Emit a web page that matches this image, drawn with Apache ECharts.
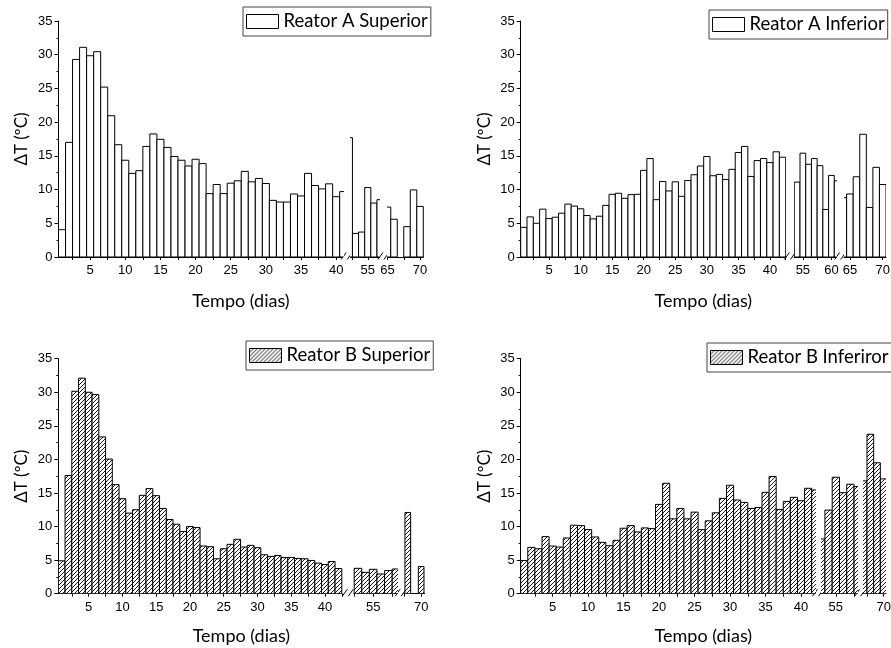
<!DOCTYPE html>
<html>
<head>
<meta charset="utf-8">
<script src="https://cdn.jsdelivr.net/npm/echarts@6/dist/echarts.min.js"></script>
<style>
html, body { margin: 0; padding: 0; background: #fff; }
#main { width: 891px; height: 648px; }
</style>
</head>
<body>
<div id="main"></div>
<script>
// ΔT (ºC) por dia, quatro posições dos reatores
var daysASup = [1,2,3,4,5,6,7,8,9,10,11,12,13,14,15,16,17,18,19,20,21,22,23,24,25,26,27,28,29,30,31,32,33,34,35,36,37,38,39,40,41,
	52,53,54,55,56,57, 65,66,68,69,70];
var valsASup = [4.05,17.0,29.3,31.1,29.85,30.45,25.2,20.95,16.65,14.35,12.4,12.8,16.4,18.25,17.45,16.25,14.9,14.35,13.5,14.5,
	13.85,9.4,10.75,9.4,10.95,11.3,12.7,11.15,11.65,10.9,8.4,8.15,8.15,9.35,9.05,12.4,10.6,10.1,10.85,8.95,9.7,
	17.7,3.5,3.7,10.3,8.0,8.5, 7.4,5.6,4.5,9.95,7.5];

var daysAInf = [1,2,3,4,5,6,7,8,9,10,11,12,13,14,15,16,17,18,19,20,21,22,23,24,25,26,27,28,29,30,31,32,33,34,35,36,37,38,39,40,41,42,
	54,55,56,57,58,59,60,61, 64,65,66,67,68,69,70];
var valsAInf = [4.4,5.95,5.0,7.1,5.7,5.9,6.5,7.85,7.55,7.15,6.15,5.65,6.05,7.65,9.3,9.45,8.7,9.25,9.3,12.85,
	14.6,8.5,11.2,9.8,11.15,9.0,11.35,12.2,13.5,14.9,12.05,12.25,11.5,13.0,15.5,16.4,11.95,14.3,14.6,14.0,15.6,14.8,
	11.1,15.4,13.75,14.6,13.55,7.05,12.1,11.3, 8.8,9.35,11.9,18.2,7.35,13.3,10.75];

var daysBSup = [1,2,3,4,5,6,7,8,9,10,11,12,13,14,15,16,17,18,19,20,21,22,23,24,25,26,27,28,29,30,31,32,33,34,35,36,37,38,39,40,41,42,
	53,54,55,56,57,58, 68,70];
var valsBSup = [4.9,17.6,30.15,32.1,30.0,29.65,23.35,20.05,16.25,14.15,12.0,12.5,14.65,15.65,14.6,12.7,11.05,10.35,9.25,10.0,
	9.85,7.1,7.0,5.2,6.7,7.35,8.1,6.95,7.2,6.85,5.8,5.55,5.7,5.4,5.4,5.25,5.2,4.95,4.55,4.35,4.8,3.75,
	3.78,3.18,3.63,2.93,3.45,3.68, 12.1,4.05];

var daysBInf = [1,2,3,4,5,6,7,8,9,10,11,12,13,14,15,16,17,18,19,20,21,22,23,24,25,26,27,28,29,30,31,32,33,34,35,36,37,38,39,40,41,42,
	53,54,55,56,57,58, 67,68,69,70];
var valsBInf = [4.95,6.9,6.7,8.5,7.1,6.95,8.3,10.2,10.15,9.55,8.45,7.65,7.15,7.95,9.75,10.15,9.2,9.8,9.7,13.3,
	16.45,11.15,12.7,11.15,12.15,9.55,10.85,12.05,14.2,16.15,13.95,13.6,12.7,12.85,15.1,17.45,12.55,13.75,14.35,13.85,15.7,15.45,
	8.15,12.45,17.35,15.05,16.3,15.95, 16.8,23.75,19.5,17.1];

// rótulos do eixo x, um grupo por trecho do eixo quebrado
var xLabelsASup = [[5,10,15,20,25,30,35,40],[55],[65,70]];
var xLabelsAInf = [[5,10,15,20,25,30,35,40],[55,60],[65,70]];
var xLabelsBSup = [[5,10,15,20,25,30,35,40],[55],[70]];
var xLabelsBInf = [[5,10,15,20,25,30,35,40],[55],[70]];

/* layout: each segment = [min day, max day, left px, right px, bar width in days] */
var panels = [
	{ name: 'Reator A Superior', days: daysASup, vals: valsASup, labels: xLabelsASup, hatch: false,
	  top: 21, bottom: 257, titleY: 301, legend: [243, 7],
	  segs: [[0.5, 40.93, 58.5, 342.7], [52.2, 56.88, 350.6, 379.3], [65, 70.5, 387.5, 423.3]] },
	{ name: 'Reator A Inferior', days: daysAInf, vals: valsAInf, labels: xLabelsAInf, hatch: false,
	  top: 21, bottom: 257, titleY: 301, legend: [709, 10],
	  segs: [[0.5, 42.5, 520.7, 785.7], [53.45, 60.85, 794, 836.3], [64.1, 70.5, 844, 886]] },
	{ name: 'Reator B Superior', days: daysBSup, vals: valsBSup, labels: xLabelsBSup, hatch: true,
	  top: 358.7, bottom: 593.7, titleY: 636, legend: [246, 341],
	  segs: [[0.5, 42.5, 58.3, 341.8], [52.45, 58.17, 353.8, 397.3], [67.43, 70.5, 404, 424.5, 0.85]] },
	{ name: 'Reator B Inferiror', days: daysBInf, vals: valsBInf, labels: xLabelsBInf, hatch: true,
	  top: 358.7, bottom: 593.7, titleY: 636, legend: [707, 343],
	  segs: [[0.5, 41.97, 520.7, 815], [52.96, 57.95, 821, 857.3], [66.9, 70.35, 863, 886]] }
];

function hatchFill() {
	var c = document.createElement('canvas');
	c.width = 4; c.height = 4;
	var g = c.getContext('2d');
	g.fillStyle = '#fff';
	g.fillRect(0, 0, 4, 4);
	g.strokeStyle = '#000';
	g.lineWidth = 0.9;
	g.beginPath();
	g.moveTo(0, 4); g.lineTo(4, 0);
	g.moveTo(-1, 1); g.lineTo(1, -1);
	g.moveTo(3, 5); g.lineTo(5, 3);
	g.stroke();
	return { image: c, repeat: 'repeat' };
}

var numFont = 'Liberation Sans, Arial, sans-serif';
var nameFont = 'Lato, Carlito, sans-serif';
var grids = [], xAxes = [], yAxes = [], series = [], legends = [], graphics = [];

panels.forEach(function (p) {
	var fill = p.hatch ? hatchFill() : '#fff';
	p.segs.forEach(function (s, k) {
		var gi = grids.length;
		var barDays = s[4] || 1;
		var ticks = [];
		for (var t = Math.ceil(s[0] / 2.5) * 2.5; t <= s[1]; t += 2.5) ticks.push(t);
		grids.push({ left: s[2], top: p.top, width: s[3] - s[2], height: p.bottom - p.top,
			containLabel: false, outerBoundsMode: 'none' });
		xAxes.push({
			type: 'value', gridIndex: gi, min: s[0], max: s[1],
			axisLine: { show: true, onZero: false, lineStyle: { color: '#000', width: 1 } },
			splitLine: { show: false },
			axisTick: { show: true, customValues: ticks, length: 3, lineStyle: { color: '#000' } },
			axisLabel: { customValues: p.labels[k], margin: 7, color: '#000', fontFamily: numFont, fontSize: 13 }
		});
		if (k === 0) {
			yAxes.push({
				type: 'value', gridIndex: gi, min: 0, max: 35, interval: 5,
				name: 'ΔT (ºC)', nameLocation: 'middle', nameGap: 28,
				nameTextStyle: { color: '#000', fontFamily: nameFont, fontSize: 17 },
				axisLine: { show: true, lineStyle: { color: '#000', width: 1 } },
				axisTick: { show: true, length: 4, lineStyle: { color: '#000' } },
				minorTick: { show: true, splitNumber: 2, length: 2, lineStyle: { color: '#000' } },
				splitLine: { show: false },
				minorSplitLine: { show: false },
				axisLabel: { margin: 6, color: '#000', fontFamily: numFont, fontSize: 13 }
			});
		} else {
			yAxes.push({ type: 'value', gridIndex: gi, min: 0, max: 35, show: false, splitLine: { show: false } });
		}
		var data = [];
		p.days.forEach(function (d, i) {
			if (d >= s[0] - 1 && d <= s[1] + 1) data.push([d, p.vals[i]]);
		});
		// bars drawn through the axis scales, clipped to the segment
		series.push({
			type: 'custom', name: p.name, xAxisIndex: gi, yAxisIndex: gi,
			clip: true, silent: true,
			itemStyle: { color: fill, borderColor: '#000', borderWidth: 1 },
			encode: { x: 0, y: 1 },
			data: data,
			renderItem: function (params, api) {
				var a = api.coord([api.value(0) - barDays / 2, api.value(1)]);
				var b = api.coord([api.value(0) + barDays / 2, 0]);
				return {
					type: 'rect',
					shape: { x: a[0], y: a[1], width: b[0] - a[0], height: b[1] - a[1] },
					style: { fill: fill, stroke: '#000', lineWidth: 1 }
				};
			}
		});
		// break marks "//" between segments
		if (k > 0) {
			var prev = p.segs[k - 1];
			var mid = (prev[3] + s[2]) / 2;
			[mid - 3, mid + 3].forEach(function (cx) {
				graphics.push({ type: 'line', silent: true,
					shape: { x1: cx - 2.5, y1: p.bottom + 2.5, x2: cx + 2.5, y2: p.bottom - 4.5 },
					style: { stroke: '#000', lineWidth: 1 } });
			});
		}
	});
	var first = p.segs[0], last = p.segs[p.segs.length - 1];
	graphics.push({ type: 'text', silent: true, x: (first[2] + last[3]) / 2, y: p.titleY,
		style: { text: 'Tempo (dias)', fill: '#000', font: '18px ' + nameFont, align: 'center', verticalAlign: 'middle' } });
	legends.push({
		data: [p.name], left: p.legend[0], top: p.legend[1], icon: 'rect',
		itemWidth: 32, itemHeight: 14, selectedMode: false,
		padding: [5, 3, 5, 3], borderColor: '#444', borderWidth: 1, borderRadius: 0,
		backgroundColor: '#fff',
		itemStyle: { color: fill, borderColor: '#000', borderWidth: 1 },
		textStyle: { color: '#000', fontFamily: nameFont, fontSize: 18.5 }
	});
});

var myChart = echarts.init(document.getElementById('main'));
myChart.setOption({
	animation: false,
	backgroundColor: '#fff',
	grid: grids,
	xAxis: xAxes,
	yAxis: yAxes,
	legend: legends,
	graphic: graphics,
	series: series
});
</script>
</body>
</html>
